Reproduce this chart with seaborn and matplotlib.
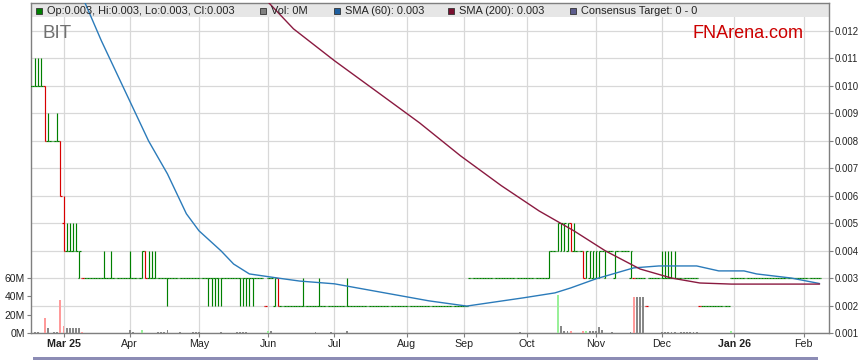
import numpy as np
import pandas as pd
import matplotlib
matplotlib.use("Agg")
import matplotlib.pyplot as plt
from matplotlib.patches import Rectangle
import seaborn as sns

W, H = 859, 363

# ── Data (prices in units of 0.001) ─────────────────────────
# daily OHLC runs: (days, open, high, low, close)
PRICE_RUNS = [
    (1, 10, 10, 10, 10),
    (3, 10, 11, 10, 10),
    (1, 10, 10, 8, 8),
    (1, 8, 9, 8, 8),
    (2, 8, 8, 8, 8),
    (1, 8, 9, 8, 8),
    (1, 8, 8, 6, 6),
    (1, 5, 6, 4, 4),
    (4, 4, 5, 4, 4),
    (1, 3, 4, 3, 4),
    (7, 3, 3, 3, 3),
    (1, 3, 4, 3, 3),
    (1, 3, 3, 3, 3),
    (1, 3, 4, 3, 3),
    (5, 3, 3, 3, 3),
    (1, 3, 4, 3, 3),
    (3, 3, 3, 3, 3),
    (1, 3, 4, 3, 4),
    (1, 4, 4, 3, 3),
    (3, 3, 4, 3, 3),
    (3, 3, 3, 3, 3),
    (1, 3, 3, 2, 3),
    (12, 3, 3, 3, 3),
    (5, 3, 3, 2, 3),
    (5, 3, 3, 3, 3),
    (5, 3, 3, 2, 3),
    (3, 3, 3, 3, 3),
    (1, 2, 2, 2, 2),
    (2, 3, 3, 3, 3),
    (1, 2, 3, 2, 3),
    (1, 3, 3, 2, 2),
    (7, 2, 2, 2, 2),
    (1, 2, 3, 2, 2),
    (4, 2, 2, 2, 2),
    (1, 2, 3, 2, 2),
    (8, 2, 2, 2, 2),
    (1, 2, 3, 2, 2),
    (38, 2, 2, 2, 2),
    (25, 3, 3, 3, 3),
    (1, 3, 4, 3, 4),
    (2, 4, 4, 4, 4),
    (1, 4, 5, 4, 5),
    (3, 4, 5, 4, 5),
    (1, 5, 5, 4, 4),
    (1, 4, 5, 4, 4),
    (2, 4, 4, 4, 4),
    (1, 4, 4, 3, 3),
    (5, 3, 4, 3, 4),
    (1, 4, 4, 4, 4),
    (1, 3, 4, 3, 4),
    (2, 4, 4, 4, 4),
    (1, 3, 4, 3, 4),
    (4, 4, 4, 4, 4),
    (1, 3, 4, 3, 4),
    (4, 3, 3, 3, 3),
    (1, 2, 2, 2, 2),
    (4, 3, 3, 3, 3),
    (5, 3, 4, 3, 3),
    (7, 3, 3, 3, 3),
    (10, 2, 2, 2, 2),
    (29, 3, 3, 3, 3),
]

VOL_DAYS = [1, 2, 4, 5, 7, 8, 9, 10, 11, 12, 13, 14, 15, 16, 22, 31, 32, 35, 40, 41,
            42, 43, 47, 51, 52, 53, 60, 65, 66, 67, 68, 75, 76, 90, 95, 100, 155, 167, 168, 169,
            170, 171, 175, 176, 177, 178, 179, 180, 181, 184, 190, 191, 192, 193, 194, 200, 201, 202, 203, 204,
            206, 207, 208, 209, 210, 211, 222]
VOL_M = [1.5, 1.5, 16, 5, 1, 1, 36, 8, 6, 6, 6, 6, 6, 1, 0.5, 3, 1, 3, 1, 1,
         1, 3, 1, 1, 1, 1, 1, 1, 1, 1, 1, 2, 2, 1, 1, 2, 1, 41, 8, 2,
         2, 2, 2, 2, 2, 2, 2, 7, 3, 1, 1, 39, 39, 39, 39, 1.5, 1.5, 1.5, 1.5, 1.5,
         1.5, 1.5, 1.5, 1.5, 1.5, 1.5, 2]

SMA60_DAY = [15, 22, 31, 37, 43, 49, 53, 60, 64, 69, 78, 85, 96, 126, 138, 156, 166,
             171, 179, 191, 199, 211, 218, 226, 230, 241, 250]
SMA60_VAL = [0.01350, 0.01164, 0.00945, 0.00799, 0.00679, 0.00534, 0.00472, 0.00399,
             0.00351, 0.00315, 0.00300, 0.00289, 0.00279, 0.00217, 0.00198, 0.00228,
             0.00246, 0.00264, 0.00297, 0.00337, 0.00344, 0.00344, 0.00326, 0.00326,
             0.00315, 0.00300, 0.00280]

SMA200_DAY = [73, 83, 96, 110, 123, 136, 149, 161, 172, 182, 193, 203, 212, 222, 250]
SMA200_VAL = [0.01328, 0.01207, 0.01091, 0.00974, 0.00865, 0.00745, 0.00636, 0.00544,
              0.00472, 0.00399, 0.00333, 0.00300, 0.00282, 0.00278, 0.00278]

MONTH_DAYS = [10, 31, 53, 75, 96, 119, 137, 157, 179, 200, 223, 245]
MONTH_LABELS = ["Mar 25", "Apr", "May", "Jun", "Jul", "Aug", "Sep", "Oct", "Nov",
                "Dec", "Jan 26", "Feb"]
PRICE_TICKS = [0.001, 0.002, 0.003, 0.004, 0.005, 0.006, 0.007, 0.008, 0.009,
               0.010, 0.011, 0.012]
VOL_TICKS = [0, 20, 40, 60]

LEGEND = [
    (36, "#008000", "Op:0.003, Hi:0.003, Lo:0.003, Cl:0.003"),
    (260, "#808080", "Vol: 0M"),
    (334, "#1f5f9f", "SMA (60): 0.003"),
    (448, "#7a1030", "SMA (200): 0.003"),
    (570, "#5c5c8c", "Consensus Target: 0 - 0"),
]

# ── Build daily frame ───────────────────────────────────────
rows = []
for n, o, h, l, c in PRICE_RUNS:
    rows += [(o, h, l, c)] * n
df = pd.DataFrame(rows, columns=["open", "high", "low", "close"]) / 1000.0
df["day"] = np.arange(len(df))
chg = df["close"].diff().fillna(0)
bar_col = np.where(chg < 0, "#d80000", "#008000")
vol_col_all = np.where(chg < 0, "#ff9a9a", np.where(chg > 0, "#99f099", "#888888"))

sns.set_style("white")
plt.rcParams["font.family"] = ["Liberation Sans", "DejaVu Sans"]

fig = plt.figure(figsize=(W / 100, H / 100), dpi=100)
ax = fig.add_axes([31 / W, 1 - 333 / H, 798 / W, 330 / H])
ax_vol = ax.twinx()

ax.set_xlim(-0.32, 253.0)
ax.set_ylim(0.001, 0.01301)
ax_vol.set_ylim(0, 360)

# grid + legend band
ax.set_axisbelow(True)
ax.grid(True, color="#d8d8d8", lw=0.9)
ax.add_patch(Rectangle((0, 1 - 14 / 330), 1, 14 / 330, transform=ax.transAxes,
                       fc="#e6e6e6", ec="none", zorder=1.5))

# OHLC bars
ax.vlines(df["day"], df["low"], df["high"], colors=bar_col, lw=0.85, zorder=3)
ax.hlines(df["open"], df["day"] - 0.48, df["day"], colors=bar_col, lw=0.85, zorder=3)
ax.hlines(df["close"], df["day"], df["day"] + 0.48, colors=bar_col, lw=0.85, zorder=3)

# moving averages
sns.lineplot(x=SMA60_DAY, y=SMA60_VAL, ax=ax, color="#2b7bba", lw=1.0, zorder=4)
sns.lineplot(x=SMA200_DAY, y=SMA200_VAL, ax=ax, color="#8a1a40", lw=1.0, zorder=4)

# volume
ax_vol.bar(VOL_DAYS, VOL_M, width=0.6, color=vol_col_all[VOL_DAYS], lw=0)

# axes cosmetics
ax.yaxis.tick_right()
ax.set_yticks(PRICE_TICKS, [f"{v:.3f}" for v in PRICE_TICKS])
ax.set_xticks(MONTH_DAYS, MONTH_LABELS)
for lbl in ax.get_xticklabels():
    if lbl.get_text().endswith(("25", "26")):
        lbl.set_fontweight("bold")
ax.tick_params(axis="y", right=True, left=False, length=3, width=0.8, color="#7f7f7f",
               pad=1.0, labelsize=6.9, labelcolor="#222222")
ax.tick_params(axis="x", bottom=True, length=3, width=0.8, color="#7f7f7f",
               pad=1.5, labelsize=7.7, labelcolor="#222222")
ax.set_xlabel("")
ax.set_ylabel("")

ax_vol.yaxis.tick_left()
ax_vol.set_yticks(VOL_TICKS, [f"{v}M" for v in VOL_TICKS])
ax_vol.tick_params(axis="y", left=True, right=False, length=3, width=0.8,
                   color="#7f7f7f", pad=1.5, labelsize=7.5, labelcolor="#222222")
for sp in ax_vol.spines.values():
    sp.set_visible(False)
for sp in ax.spines.values():
    sp.set_color("#7f7f7f")
    sp.set_linewidth(1.0)

# header texts / legend
for x, col, txt in LEGEND:
    fig.add_artist(Rectangle((x / W, 1 - 14 / H), 6 / W, 6 / H, transform=fig.transFigure,
                             fc=col, ec="#333333", lw=0.6))
    fig.text((x + 11) / W, 1 - 11 / H, txt, fontsize=7.9, va="center", color="#222222")

fig.text(42 / W, 1 - 33 / H, "BIT", fontsize=13.5, va="center", color="#707070")
fig.text(693 / W, 1 - 33 / H, "FNArena.com", fontsize=13, va="center", color="#cc0000")

# navigator strip at the bottom
fig.add_artist(Rectangle((33 / W, 1 - 360 / H), 785 / W, 3 / H, transform=fig.transFigure,
                         fc="#8c8cb5", ec="none"))

fig.savefig("out.png", dpi=100)
